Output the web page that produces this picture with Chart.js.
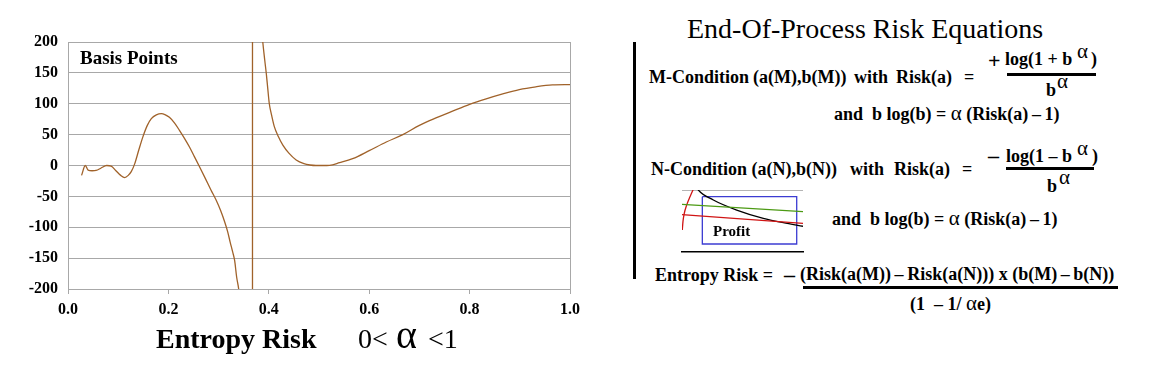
<!DOCTYPE html>
<html>
<head>
<meta charset="utf-8">
<script src="https://cdn.jsdelivr.net/npm/chart.js@4"></script>
<style>
    body { margin: 0; background: #fff; width: 1149px; height: 374px; position: relative; overflow: hidden; }
    canvas { position: absolute; }
    .t { position: absolute; line-height: 1; white-space: pre; font-family: "Liberation Serif", "Times New Roman", serif; color: #000; }
    .t span { line-height: 0; }
    .bar { position: absolute; background: #000; }
</style>
</head>
<body>
<canvas id="risk-chart" width="600" height="374" style="left:0;top:0"></canvas>
<canvas id="profit-chart" width="134" height="75" style="left:676px;top:184px"></canvas>
<script>
// Entropy risk curve (basis points)
const riskLeft = [0.027, 0.0345, 0.040, 0.048, 0.056, 0.066, 0.077, 0.086, 0.095, 0.105, 0.113, 0.120, 0.126, 0.133, 0.141,
    0.149, 0.158, 0.166, 0.176, 0.186, 0.194, 0.202, 0.212, 0.222, 0.232, 0.242, 0.252, 0.262, 0.273, 0.285, 0.295,
    0.304, 0.312, 0.318, 0.323, 0.328, 0.332, 0.336, 0.340, 0.344];
const bpLeft = [-16, 0, -7.5, -8.5, -8, -4, 0, -1, -8, -16, -19.5, -16, -10, 3, 25,
    46, 65, 76, 82, 84, 82, 78, 69, 57, 44, 30, 14, -2, -20, -40, -56,
    -73, -91, -107, -124, -140, -154, -181, -200, -235];

const riskAsym = [0.3675, 0.3675];
const bpAsym = [-260, 260];

const riskRight = [0.383, 0.388, 0.392, 0.395, 0.398, 0.401, 0.406, 0.411, 0.419, 0.428, 0.440, 0.4545, 0.470, 0.482,
    0.494, 0.508, 0.521, 0.541, 0.567, 0.600, 0.634, 0.667, 0.700, 0.733, 0.766, 0.800,
    0.833, 0.866, 0.899, 0.932, 0.965, 1.000];
const bpRight = [250, 200, 170, 149, 124, 100, 80, 63, 47, 33, 20, 9, 3, 0.8,
    0, 0, 0.3, 4.5, 11, 24, 38, 50, 65, 77, 88, 99,
    108, 116, 123, 127.5, 130.5, 131];

const xTickLabels = ['0.0', '0.2', '0.4', '0.6', '0.8', '1.0'];
const yTickLabels = ['-200', '-150', '-100', '-50', '0', '50', '100', '150', '200'];

// little "Profit" sketch, in 0..1 units
const redCurveX = [0.0025, 0.008, 0.019, 0.039, 0.066, 0.093, 0.11];
const redCurveY = [0.355, 0.49, 0.625, 0.76, 0.89, 1.01, 1.08];
const blackCurveX = [0.12, 0.135, 0.259, 0.452, 0.672, 0.837, 1.0];
const blackCurveY = [1.05, 1.0, 0.839, 0.677, 0.543, 0.473, 0.415];
const greenLineX = [0, 1];
const greenLineY = [0.769, 0.650];
const redLineX = [0, 1];
const redLineY = [0.602, 0.463];
const profitBoxX = [0.168, 0.948, 0.948, 0.168, 0.168];
const profitBoxY = [0.892, 0.892, 0.129, 0.129, 0.892];

const curveColor = '#a0622a';
const gridColor = '#a8a8a8';
const tickFont = { family: '"Liberation Serif", serif', size: 16, weight: 'bold' };

function toPoints(xs, ys) {
    return xs.map((x, i) => ({ x: x, y: ys[i] }));
}

// main chart
const riskChart = new Chart(document.getElementById('risk-chart'), {
    type: 'line',
    data: {
        datasets: [
            { data: toPoints(riskLeft, bpLeft), cubicInterpolationMode: 'monotone' },
            { data: toPoints(riskAsym, bpAsym), tension: 0 },
            { data: toPoints(riskRight, bpRight), cubicInterpolationMode: 'monotone' }
        ]
    },
    options: {
        responsive: false,
        animation: false,
        elements: {
            point: { radius: 0 },
            line: { borderColor: curveColor, borderWidth: 1.3, fill: false }
        },
        plugins: { legend: { display: false }, tooltip: { enabled: false } },
        layout: { padding: { top: 42, right: 30, bottom: 55, left: 0 } },
        scales: {
            x: {
                type: 'linear',
                min: 0,
                max: 1,
                afterFit: (scale) => { scale.height = 30; },
                ticks: {
                    stepSize: 0.2,
                    padding: 6,
                    color: '#000',
                    font: tickFont,
                    maxRotation: 0,
                    callback: (value, index) => xTickLabels[index]
                },
                grid: {
                    color: (c) => (c.tick && (c.tick.value === 0 || c.tick.value === 1)) ? gridColor : 'rgba(0,0,0,0)',
                    tickColor: gridColor,
                    tickLength: 5
                },
                border: { color: gridColor }
            },
            y: {
                min: -200,
                max: 200,
                afterFit: (scale) => { scale.width = 68; },
                ticks: {
                    stepSize: 50,
                    padding: 10,
                    color: '#000',
                    font: tickFont,
                    callback: (value, index) => yTickLabels[index]
                },
                grid: { color: gridColor, drawTicks: false },
                border: { color: gridColor }
            }
        }
    }
});

// small sketch next to the N-Condition
const profitChart = new Chart(document.getElementById('profit-chart'), {
    type: 'line',
    data: {
        datasets: [
            { data: toPoints(greenLineX, greenLineY), borderColor: '#4c9a14', tension: 0 },
            { data: toPoints(redLineX, redLineY), borderColor: '#d01414', tension: 0 },
            { data: toPoints(redCurveX, redCurveY), borderColor: '#d01414', cubicInterpolationMode: 'monotone' },
            { data: toPoints(blackCurveX, blackCurveY), borderColor: '#000', cubicInterpolationMode: 'monotone' },
            { data: toPoints(profitBoxX, profitBoxY), borderColor: '#3c3cd2', tension: 0 }
        ]
    },
    options: {
        responsive: false,
        animation: false,
        elements: { point: { radius: 0 }, line: { borderWidth: 1.3, fill: false } },
        plugins: { legend: { display: false }, tooltip: { enabled: false } },
        layout: { padding: { top: 6, right: 7, bottom: 6, left: 6 } },
        scales: {
            x: {
                type: 'linear', min: 0, max: 1,
                afterFit: (scale) => { scale.height = 1; },
                ticks: { display: false },
                grid: { drawOnChartArea: false, drawTicks: false },
                border: { color: '#000', width: 1.5 }
            },
            y: {
                min: 0, max: 1,
                afterFit: (scale) => { scale.width = 0; },
                ticks: { display: false, stepSize: 1 },
                grid: {
                    drawTicks: false,
                    color: (c) => (c.tick && c.tick.value === 1) ? '#b4b4b4' : 'rgba(0,0,0,0)'
                },
                border: { display: false }
            }
        }
    }
});

// text around the charts
function put(html, x, baseline, size, bold) {
    const el = document.createElement('div');
    el.className = 't';
    el.innerHTML = html;
    el.style.left = x + 'px';
    el.style.top = (baseline - 0.8375 * size) + 'px';
    el.style.fontSize = size + 'px';
    el.style.fontWeight = bold ? 'bold' : 'normal';
    document.body.appendChild(el);
}

function bar(x, y, w, h) {
    const el = document.createElement('div');
    el.className = 'bar';
    el.style.left = x + 'px';
    el.style.top = y + 'px';
    el.style.width = w + 'px';
    el.style.height = h + 'px';
    document.body.appendChild(el);
}

const alpha = '<span style="font-weight:normal;font-size:21px">α</span>';
const minus = '&thinsp;–&thinsp;';

put('Basis Points', 80, 64, 19, true);
put('Entropy Risk', 156, 348, 28, true);
put('0&lt;', 358, 348, 28, false);
put('α', 396, 348, 40, false);
put('&lt;1', 428, 348, 28, false);

put('End-Of-Process Risk Equations', 687, 38, 28, false);
bar(633, 42, 3, 237);

// M-Condition
put('M-Condition', 649, 83, 18, true);
put('(a(M),b(M))', 753, 83, 18, true);
put('with', 854, 83, 18, true);
put('Risk(a)', 896, 83, 18, true);
put('=', 964, 83, 18, true);
put('+', 988, 68, 22, true);
put('log(1 + b', 1005, 65, 18, true);
put('α', 1077, 59, 21, false);
put(')', 1091, 65, 18, true);
bar(1007, 73, 89, 3);
put('b', 1046, 96, 18, true);
put('α', 1057, 89, 21, false);
put('and&nbsp; b log(b) = ' + alpha + ' (Risk(a)' + minus + '1)', 834, 120, 18, true);

// N-Condition
put('N-Condition (a(N),b(N))', 651, 175, 18, true);
put('with', 850, 175, 18, true);
put('Risk(a)', 894, 175, 18, true);
put('=', 962, 175, 18, true);
put('–', 988, 163, 22, true);
put('log(1 – b', 1006, 162, 18, true);
put('α', 1077, 156, 21, false);
put(')', 1092, 162, 18, true);
bar(1006, 167, 88, 3);
put('b', 1047, 192, 18, true);
put('α', 1059, 185, 21, false);
put('and&nbsp; b log(b) = ' + alpha + ' (Risk(a)' + minus + '1)', 832, 225, 18, true);
put('Profit', 713, 237, 15, true);

// Entropy Risk
put('Entropy Risk =', 655, 281, 18, true);
put('–', 784, 282, 22, true);
put('(Risk(a(M))' + minus + 'Risk(a(N)))&nbsp;x&nbsp;(b(M)' + minus + 'b(N))', 800, 280, 18, true);
bar(803, 286, 315, 3);
put('(1&nbsp; – 1/ ' + alpha + 'e)', 910, 310, 18, true);
</script>
</body>
</html>
